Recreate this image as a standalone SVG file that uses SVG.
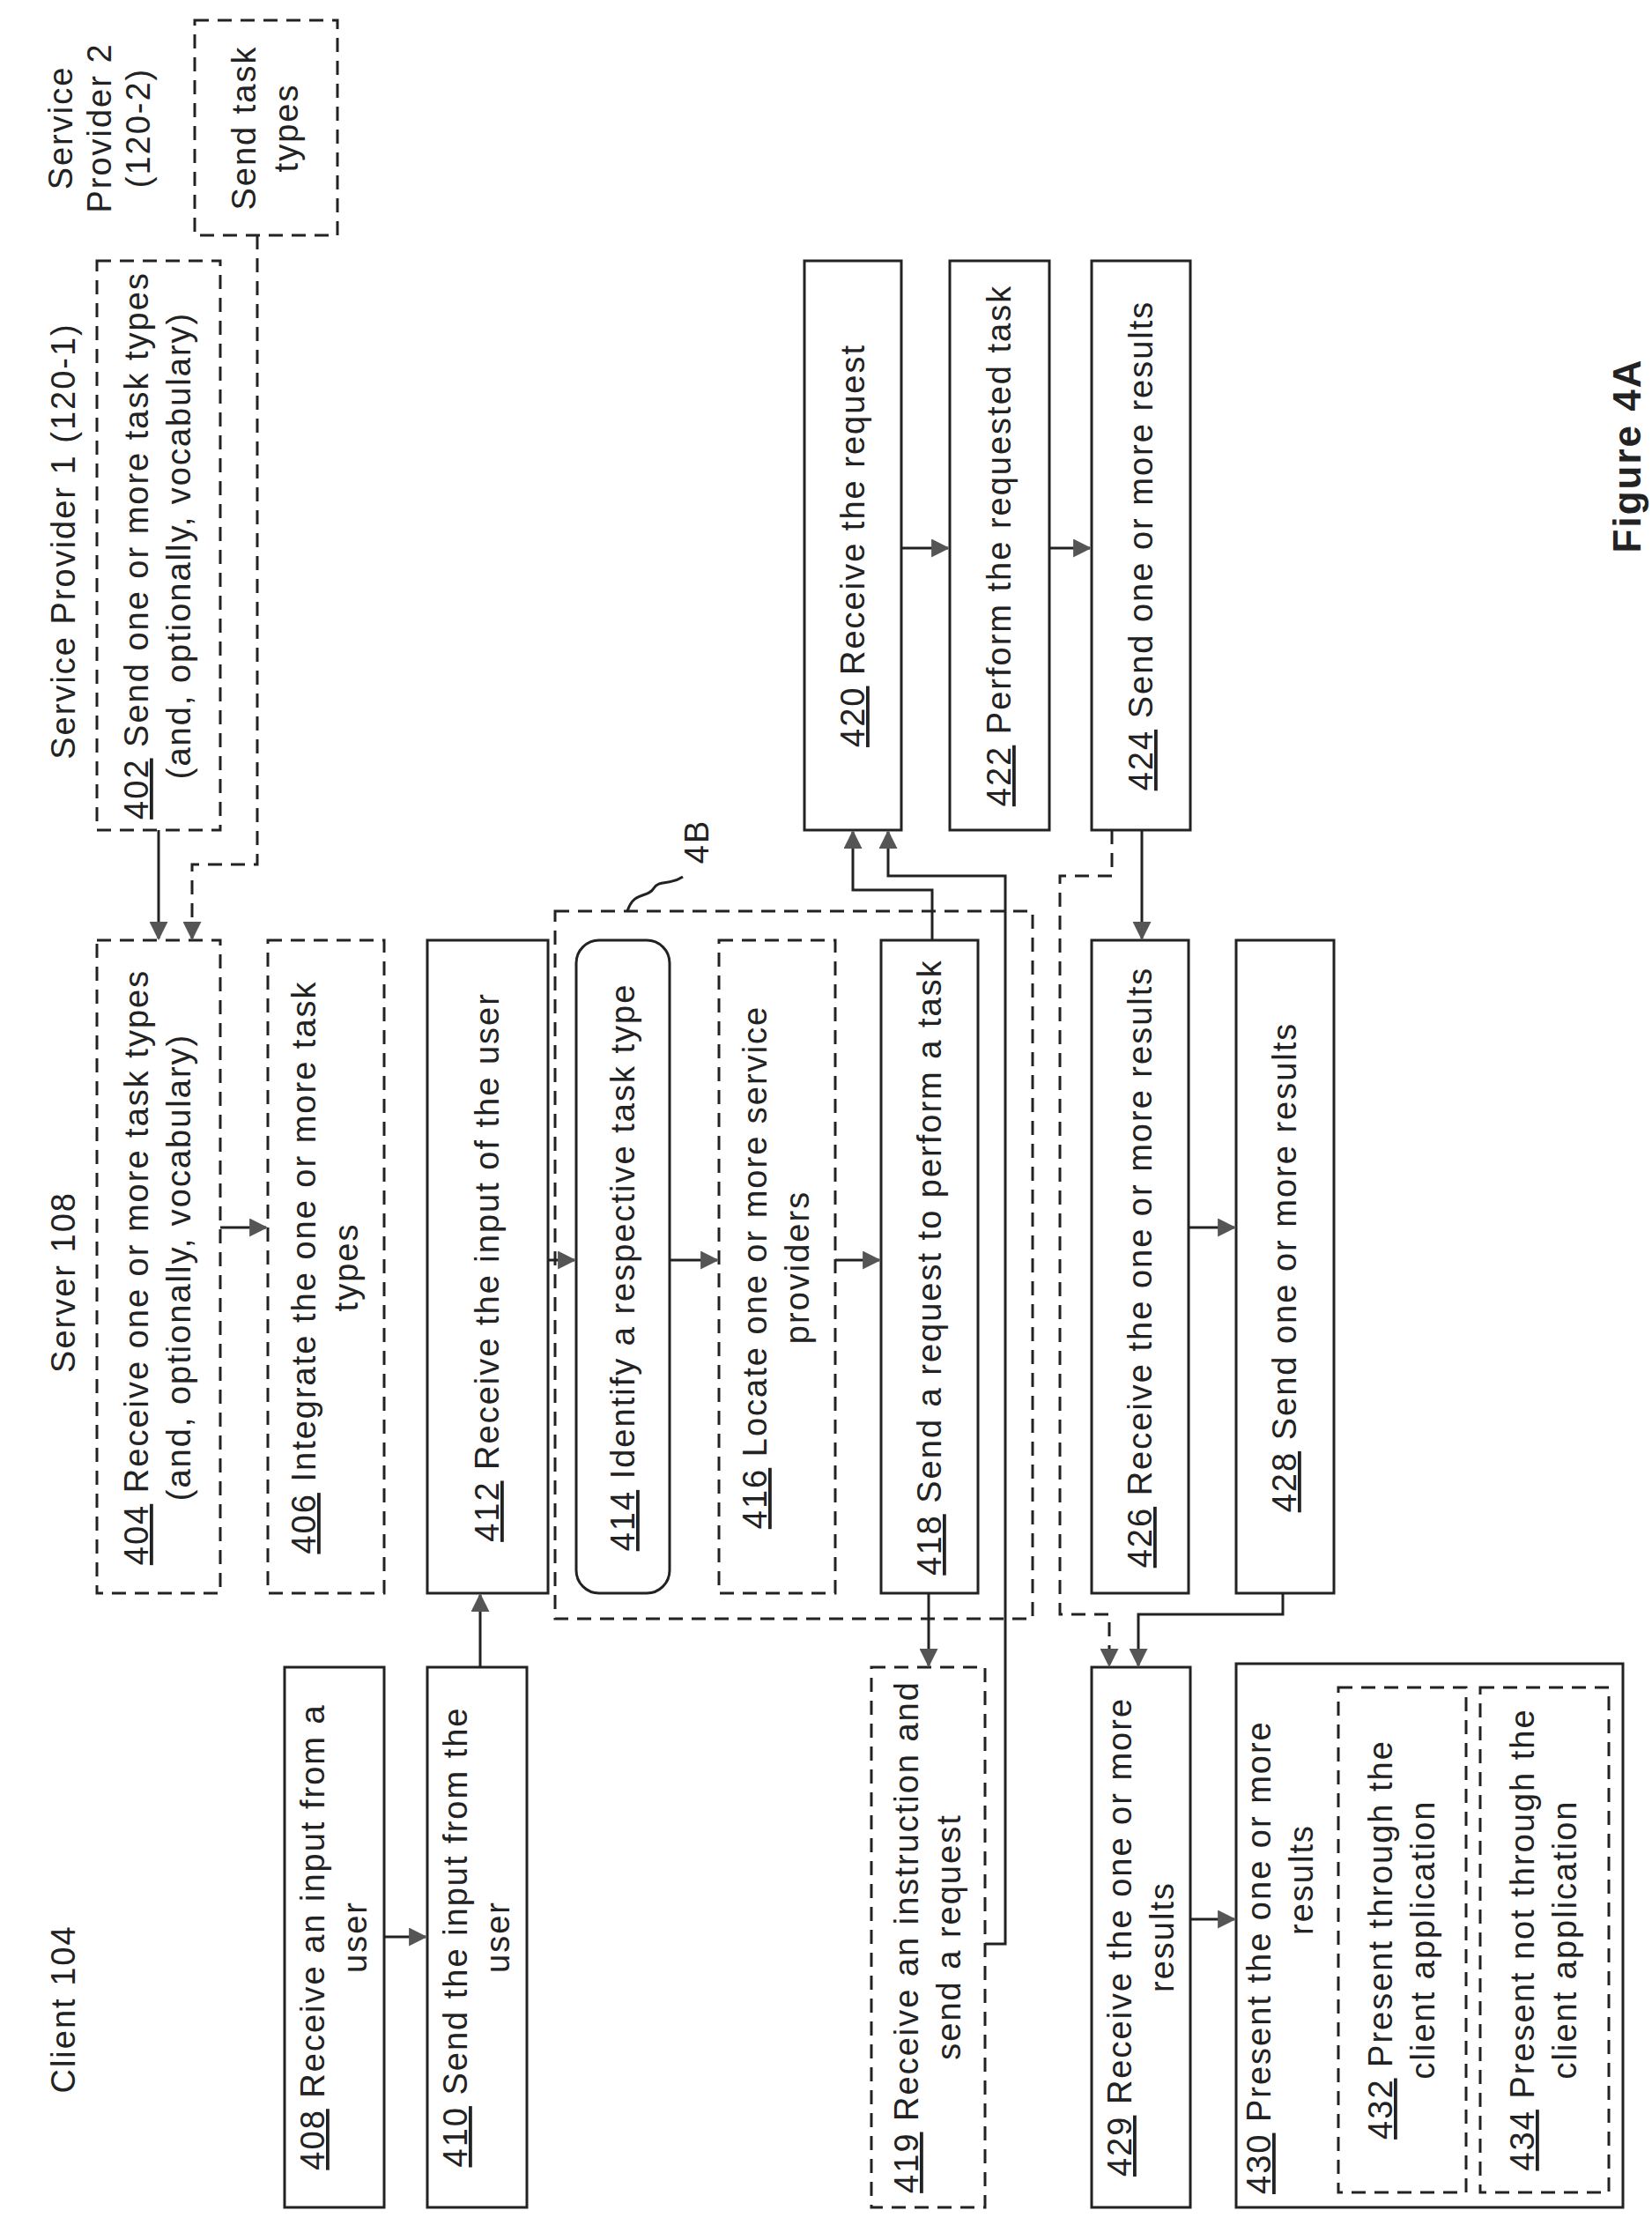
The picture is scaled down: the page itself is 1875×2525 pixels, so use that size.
<svg xmlns="http://www.w3.org/2000/svg" width="1875" height="2525" viewBox="0 0 1875 2525">
<style>
.b{fill:#fff;stroke:#222;stroke-width:3}
.d{fill:none;stroke:#222;stroke-width:3;stroke-dasharray:16 10}
.t{font-family:"Liberation Sans",Arial,sans-serif;font-size:38px;fill:#222;text-anchor:middle;letter-spacing:2px}
.s{text-anchor:start}
.u{text-decoration:underline}
.c{fill:none;stroke:#222;stroke-width:3}
.cd{fill:none;stroke:#222;stroke-width:3;stroke-dasharray:16 10}
</style>
<defs>
<marker id="a" viewBox="0 0 10 10" refX="9" refY="5" markerWidth="7" markerHeight="7" markerUnits="strokeWidth" orient="auto"><path d="M0,0L10,5L0,10z" fill="#555"/></marker>
</defs>
<rect width="1875" height="2525" fill="#fff"/>
<g id="headers">
<text class="t" transform="translate(85,2280) rotate(-90)">Client 104</text>
<text class="t" transform="translate(85,1455) rotate(-90)">Server 108</text>
<text class="t" transform="translate(85,614) rotate(-90)">Service Provider 1 (120-1)</text>
<text class="t" transform="translate(82,145) rotate(-90)"><tspan x="0">Service</tspan><tspan x="0" dy="44">Provider 2</tspan><tspan x="0" dy="44">(120-2)</tspan></text>
<text class="t" transform="translate(1862,517) rotate(-90)" style="font-weight:bold;font-size:44px">Figure 4A</text>
</g>
<g id="n402"><rect class="d" x="110" y="296" width="140" height="646"/><text class="t" transform="translate(168,619) rotate(-90)"><tspan x="0"><tspan class="u">402</tspan> Send one or more task types</tspan><tspan x="0" dy="48">(and, optionally, vocabulary)</tspan></text></g>
<g id="sp2"><rect class="d" x="221" y="23" width="162" height="244"/><text class="t" transform="translate(290,145) rotate(-90)"><tspan x="0">Send task</tspan><tspan x="0" dy="48">types</tspan></text></g>
<g id="n404"><rect class="d" x="110" y="1067" width="140" height="741"/><text class="t" transform="translate(168,1438) rotate(-90)"><tspan x="0"><tspan class="u">404</tspan> Receive one or more task types</tspan><tspan x="0" dy="48">(and, optionally, vocabulary)</tspan></text></g>
<g id="n406"><rect class="d" x="304" y="1067" width="132" height="741"/><text class="t" transform="translate(358,1438) rotate(-90)"><tspan x="0"><tspan class="u">406</tspan> Integrate the one or more task</tspan><tspan x="0" dy="48">types</tspan></text></g>
<g id="n412"><rect class="b" x="485" y="1067" width="137" height="741"/><text class="t" transform="translate(566,1438) rotate(-90)"><tspan class="u">412</tspan> Receive the input of the user</text></g>
<g id="g4B"><rect class="d" x="630" y="1034" width="542" height="803"/><path class="c" d="M712,1034 C720,1010 735,1020 742,1008 C748,998 760,1005 775,995"/><text class="t" transform="translate(804,955) rotate(-90)">4B</text></g>
<g id="n414"><rect class="b" x="654" y="1067" width="106" height="741" rx="26"/><text class="t" transform="translate(720,1438) rotate(-90)"><tspan class="u">414</tspan> Identify a respective task type</text></g>
<g id="n416"><rect class="d" x="816" y="1067" width="132" height="741"/><text class="t" transform="translate(870,1438) rotate(-90)"><tspan x="0"><tspan class="u">416</tspan> Locate one or more service</tspan><tspan x="0" dy="48">providers</tspan></text></g>
<g id="n418"><rect class="b" x="1000" y="1067" width="110" height="741"/><text class="t" transform="translate(1068,1438) rotate(-90)"><tspan class="u">418</tspan> Send a request to perform a task</text></g>
<g id="n420"><rect class="b" x="913" y="296" width="110" height="646"/><text class="t" transform="translate(981,619) rotate(-90)"><tspan class="u">420</tspan> Receive the request</text></g>
<g id="n422"><rect class="b" x="1078" y="296" width="113" height="646"/><text class="t" transform="translate(1147,619) rotate(-90)"><tspan class="u">422</tspan> Perform the requested task</text></g>
<g id="n424"><rect class="b" x="1239" y="296" width="112" height="646"/><text class="t" transform="translate(1308,619) rotate(-90)"><tspan class="u">424</tspan> Send one or more results</text></g>
<g id="n426"><rect class="b" x="1239" y="1067" width="110" height="741"/><text class="t" transform="translate(1307,1438) rotate(-90)"><tspan class="u">426</tspan> Receive the one or more results</text></g>
<g id="n428"><rect class="b" x="1403" y="1067" width="111" height="741"/><text class="t" transform="translate(1471,1438) rotate(-90)"><tspan class="u">428</tspan> Send one or more results</text></g>
<g id="n408"><rect class="b" x="323" y="1892" width="113" height="613"/><text class="t" transform="translate(368,2198) rotate(-90)"><tspan x="0"><tspan class="u">408</tspan> Receive an input from a</tspan><tspan x="0" dy="48">user</tspan></text></g>
<g id="n410"><rect class="b" x="485" y="1892" width="113" height="613"/><text class="t" transform="translate(530,2198) rotate(-90)"><tspan x="0"><tspan class="u">410</tspan> Send the input from the</tspan><tspan x="0" dy="48">user</tspan></text></g>
<g id="n419"><rect class="d" x="989" y="1892" width="129" height="613"/><text class="t" transform="translate(1042,2198) rotate(-90)"><tspan x="0"><tspan class="u">419</tspan> Receive an instruction and</tspan><tspan x="0" dy="48">send a request</tspan></text></g>
<g id="n429"><rect class="b" x="1239" y="1892" width="112" height="613"/><text class="t" transform="translate(1284,2198) rotate(-90)"><tspan x="0"><tspan class="u">429</tspan> Receive the one or more</tspan><tspan x="0" dy="48">results</tspan></text></g>
<g id="n430"><rect class="b" x="1403" y="1888" width="439" height="617"/><text class="t s" transform="translate(1442,2490) rotate(-90)"><tspan class="u">430</tspan> Present the one or more</text><text class="t" transform="translate(1490,2133) rotate(-90)">results</text></g>
<g id="n432"><rect class="d" x="1519" y="1915" width="145" height="573"/><text class="t" transform="translate(1580,2201) rotate(-90)"><tspan x="0"><tspan class="u">432</tspan> Present through the</tspan><tspan x="0" dy="48">client application</tspan></text></g>
<g id="n434"><rect class="d" x="1680" y="1915" width="146" height="573"/><text class="t" transform="translate(1741,2201) rotate(-90)"><tspan x="0"><tspan class="u">434</tspan> Present not through the</tspan><tspan x="0" dy="48">client application</tspan></text></g>
<g id="connectors">
<path class="c" d="M180,942V1065" marker-end="url(#a)"/>
<path class="cd" d="M292,267V981H218V1065" marker-end="url(#a)"/>
<path class="c" d="M250,1393H302" marker-end="url(#a)"/>
<path class="c" d="M545,1892V1810" marker-end="url(#a)"/>
<path class="c" d="M622,1430H652" marker-end="url(#a)"/>
<path class="c" d="M760,1430H814" marker-end="url(#a)"/>
<path class="c" d="M948,1430H998" marker-end="url(#a)"/>
<path class="c" d="M1054,1808V1890" marker-end="url(#a)"/>
<path class="c" d="M1058,1067V1010H968V944" marker-end="url(#a)"/>
<path class="c" d="M1118,2206H1141V994H1008V944" marker-end="url(#a)"/>
<path class="c" d="M1023,622H1076" marker-end="url(#a)"/>
<path class="c" d="M1191,622H1237" marker-end="url(#a)"/>
<path class="c" d="M1296,942V1065" marker-end="url(#a)"/>
<path class="c" d="M1349,1393H1401" marker-end="url(#a)"/>
<path class="c" d="M1456,1808V1832H1292V1890" marker-end="url(#a)"/>
<path class="cd" d="M1262,942V994H1203V1832H1259V1890" marker-end="url(#a)"/>
<path class="c" d="M1351,2178H1401" marker-end="url(#a)"/>
<path class="c" d="M436,2198H483" marker-end="url(#a)"/>
</g>
</svg>
